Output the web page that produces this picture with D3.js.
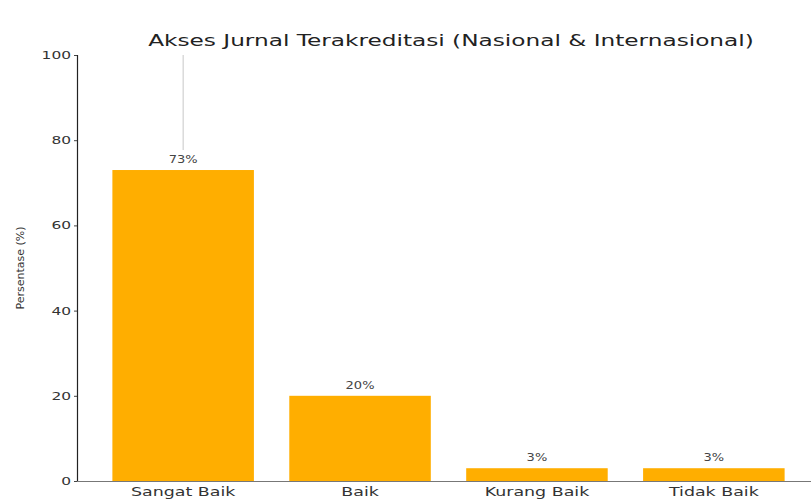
<!DOCTYPE html>
<html>
<head>
<meta charset="utf-8">
<script src="https://cdn.jsdelivr.net/npm/d3@7"></script>
<style>
  html, body { margin: 0; padding: 0; background: #fff; overflow: hidden; }
  svg { display: block; font-family: "DejaVu Sans", sans-serif; }
</style>
</head>
<body>
<svg id="chart" width="811" height="502"></svg>
<script>
// Survey result: access to accredited journals
const categories = ["Sangat Baik", "Baik", "Kurang Baik", "Tidak Baik"];
const percentages = [73, 20, 3, 3];
const yTicks = [0, 20, 40, 60, 80, 100];
const titleText = "Akses Jurnal Terakreditasi (Nasional & Internasional)";
const yLabelText = "Persentase (%)";

const svg = d3.select("#chart");
const margin = { left: 77, top: 55, bottom: 481 };

// horizontal text is drawn wide
function widen(sel, factor) {
  sel.each(function () {
    const len = this.getComputedTextLength();
    d3.select(this)
      .attr("textLength", len * factor)
      .attr("lengthAdjust", "spacingAndGlyphs");
  });
}

const x = d3.scaleBand()
  .domain(categories)
  .range([margin.left, 820])
  .paddingInner(0.2)
  .paddingOuter(0.2);

const y = d3.scaleLinear()
  .domain([0, 100])
  .range([margin.bottom, margin.top]);

// bars
svg.append("g")
  .selectAll("rect")
  .data(categories)
  .join("rect")
  .attr("x", d => x(d))
  .attr("y", (d, i) => y(percentages[i]))
  .attr("width", x.bandwidth())
  .attr("height", (d, i) => y(0) - y(percentages[i]))
  .attr("fill", "#FFAE00");

// thin guide line above the leading bar
svg.append("line")
  .attr("x1", x(categories[0]) + x.bandwidth() / 2)
  .attr("x2", x(categories[0]) + x.bandwidth() / 2)
  .attr("y1", y(100))
  .attr("y2", y(percentages[0]) - 20)
  .attr("stroke", "#c8c8c8")
  .attr("stroke-width", 1);

// value labels
const valueLabels = svg.append("g")
  .selectAll("text")
  .data(categories)
  .join("text")
  .attr("x", d => x(d) + x.bandwidth() / 2)
  .attr("y", (d, i) => y(percentages[i]) - 7)
  .attr("text-anchor", "middle")
  .attr("font-size", 10)
  .attr("fill", "#444")
  .text((d, i) => percentages[i] + "%");
widen(valueLabels, 1.3);

// y axis
const yAxis = svg.append("g")
  .attr("transform", `translate(${margin.left},0)`)
  .call(d3.axisLeft(y).tickValues(yTicks).tickSize(3).tickPadding(3));
yAxis.select(".domain").attr("stroke", "#222").attr("stroke-width", 1.2);
yAxis.selectAll(".tick line").attr("stroke", "#444");
const yTickText = yAxis.selectAll(".tick text").attr("font-size", 11).attr("fill", "#333")
  .attr("font-family", "DejaVu Sans, sans-serif");
widen(yTickText, 1.4);

// x axis
const xAxis = svg.append("g")
  .attr("transform", `translate(0,${margin.bottom})`)
  .call(d3.axisBottom(x).tickSize(0).tickPadding(6));
xAxis.select(".domain").attr("stroke", "#777").attr("stroke-width", 1.2)
  .attr("d", `M${margin.left},0.5H811`);
const xTickText = xAxis.selectAll(".tick text").attr("font-size", 12).attr("fill", "#333")
  .attr("font-family", "DejaVu Sans, sans-serif");
widen(xTickText, 1.45);

// title
const title = svg.append("text")
  .attr("x", 451)
  .attr("y", 46)
  .attr("text-anchor", "middle")
  .attr("font-size", 16)
  .attr("fill", "#222")
  .text(titleText);
widen(title, 1.45);

// y axis label
svg.append("text")
  .attr("transform", `translate(24,${(margin.top + margin.bottom) / 2}) rotate(-90)`)
  .attr("text-anchor", "middle")
  .attr("font-size", 11)
  .attr("fill", "#333")
  .text(yLabelText);
</script>
</body>
</html>
